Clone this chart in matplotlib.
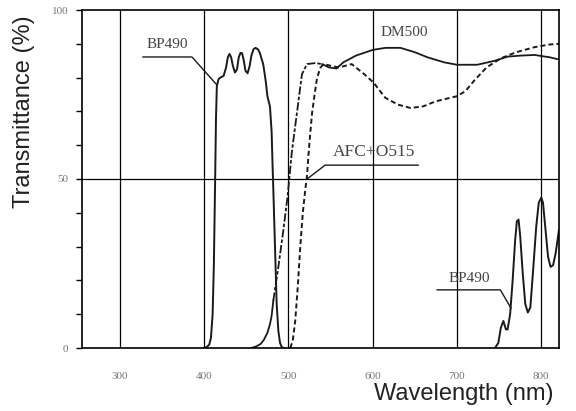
import matplotlib
matplotlib.use("Agg")
import matplotlib.pyplot as plt
from matplotlib.ticker import MultipleLocator

plt.rcParams["lines.scale_dashes"] = False

# BP490 excitation filter, main band (nm, %)
bp_wl = [400, 403, 406, 408, 410, 411.5, 413, 414, 415, 417, 419, 423, 426, 428, 430, 432, 434,
         436.5, 439, 441, 443, 445, 447, 449, 451.5, 454, 456, 458.5, 461, 464, 466, 470, 473,
         475, 478, 480, 481, 482, 484, 486, 488, 490, 492, 494]
bp_t = [0, 0.3, 1, 3, 10, 25, 50, 68, 77.5, 79.5, 80, 80.5, 83, 86, 87, 86, 83.5,
        81.5, 82.5, 86, 87.3, 87.2, 85, 82, 81.3, 83.5, 86.5, 88.4, 88.8, 88.3, 87.3, 84, 79,
        74.5, 71.5, 64, 55, 47, 30, 13, 5, 1.5, 0.3, 0]

# BP490 infrared leak
bp2_wl = [745, 749, 752, 755, 758, 760, 763, 766, 769, 771, 773, 775, 778, 781, 784, 787, 790,
          794, 797, 800, 802, 805, 808, 811, 814, 817, 821]
bp2_t = [0, 1.5, 6, 8, 5.5, 5.5, 10, 20, 32, 37.5, 38, 33, 22, 13, 10.5, 12, 22,
         36, 43, 44.5, 43, 35, 27, 24, 24.5, 28, 35]

# DM500 dichroic mirror
dm_wl = [456, 462, 467, 471, 475, 478, 480, 482, 488, 494, 499, 504, 510, 516, 522, 532, 540,
         548, 557, 565, 580, 600, 615, 633, 650, 665, 685, 700, 724, 745, 760, 775, 792, 810, 822]
dm_t = [0, 0.5, 1.2, 2.5, 4.5, 7, 9.5, 14, 24, 35, 45, 58, 69.5, 81, 84, 84.3, 84,
        83, 82.7, 84.5, 86.5, 88.2, 88.8, 88.8, 87.5, 86, 84.5, 83.8, 83.8, 85, 86.2, 86.5, 86.7, 86, 85.3]

# AFC + O515 barrier filter
afc_wl = [502, 505, 508, 511, 514, 517, 520, 522, 524, 526, 528, 531, 534, 538, 542, 550, 560,
          575, 590, 601, 615, 630, 645, 660, 675, 700, 710, 720, 735, 752, 770, 792, 810, 822]
afc_t = [0, 2, 8, 18, 30, 40, 47, 51, 58, 64, 69.5, 75, 80, 83, 84, 83.5, 83,
         84, 81, 78.5, 74, 72, 71, 71.5, 73, 74.5, 76, 79, 83, 85.7, 87.5, 89, 89.8, 90]

x_grid = [300, 400, 500, 600, 700, 800]

fig = plt.figure(figsize=(5.76, 4.11), dpi=100)
ax = fig.add_axes([82 / 576, 1 - 348 / 411, 477 / 576, 338 / 411])

curve = "#1a1a1a"
ax.plot(bp_wl, bp_t, color=curve, lw=1.4)
ax.plot(bp2_wl, bp2_t, color=curve, lw=1.4)

# DM500: solid tail, dash-dot steep edge, solid top
i1 = dm_wl.index(482)
i2 = dm_wl.index(540)
ax.plot(dm_wl[:i1 + 1], dm_t[:i1 + 1], color=curve, lw=1.3)
ax.plot(dm_wl[i1:i2 + 1], dm_t[i1:i2 + 1], color=curve, lw=1.3, dashes=(6, 1.5, 2.5, 1.5))
ax.plot(dm_wl[i2:], dm_t[i2:], color=curve, lw=1.3)

ax.plot(afc_wl, afc_t, color=curve, lw=1.4, dashes=(3.6, 2.2))

# grid
for x in x_grid:
    ax.axvline(x, color="black", lw=0.9, zorder=0)
ax.axhline(50, color="black", lw=0.9, zorder=0)

ax.set_xlim(255, 821)
ax.set_ylim(0, 100)

for s in ax.spines.values():
    s.set_linewidth(1.2)

ax.set_xticks(x_grid)
ax.set_xticklabels([str(x) for x in x_grid], family="Liberation Serif", fontsize=8, color="#777777")
ax.tick_params(axis="x", length=0, pad=17)
ax.set_yticks([0, 50, 100])
ax.set_yticklabels(["0", "50", "100"], family="Liberation Serif", fontsize=8, color="#777777")
ax.yaxis.set_minor_locator(MultipleLocator(10))
ax.tick_params(axis="y", which="both", direction="out", length=4, width=1, pad=6)

ax.set_xlabel("Wavelength (nm)", family="Liberation Sans", fontsize=17, color="#222222")
ax.xaxis.set_label_coords(0.80, -0.135)
ax.xaxis.label.set_va("center")
ax.set_ylabel("Transmittance (%)", family="Liberation Sans", fontsize=17, color="#222222")
ax.yaxis.set_label_coords(-0.122, 0.70)
ax.yaxis.label.set_va("center")

# labels with leader lines
lab = dict(family="Liberation Serif", fontsize=11, color="#444444", ha="center", va="center")
ax.text(355.8, 89.8, "BP490", **lab)
ax.plot([327.3, 385.5, 415.2], [86.1, 86.1, 77.8], color=curve, lw=1.0)
ax.text(637, 93.2, "DM500", **lab)
ax.text(601.7, 58, "AFC+O515", family="Liberation Serif", fontsize=12.5, color="#444444",
        ha="center", va="center")
ax.plot([522, 543.5, 653.9], [50, 54.1, 54.1], color=curve, lw=1.0)
ax.text(714.5, 20.7, "BP490", **lab)
ax.plot([676.5, 751.4, 764], [17.2, 17.2, 11.8], color=curve, lw=1.0)

plt.savefig("out.png", dpi=100)
